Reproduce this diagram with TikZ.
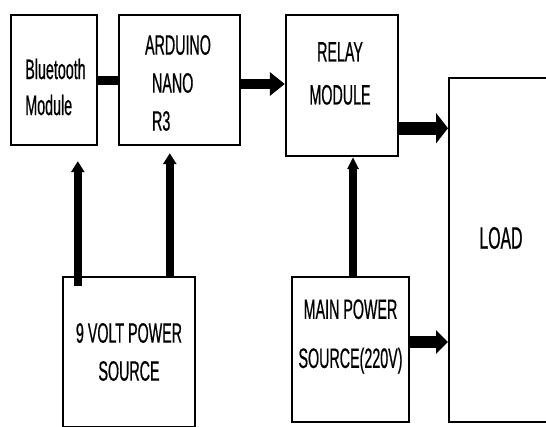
\documentclass[tikz,border=0pt]{standalone}
\usepackage{fontspec}
\newfontfamily\blockfont{Liberation Sans}[FakeStretch=0.51,FakeBold=0.6]
\usetikzlibrary{arrows.meta,calc}

\begin{document}
\begin{tikzpicture}[x=1pt,y=-1pt,
  blk/.style={draw,line width=2.4pt,inner sep=0pt},
  lbl/.style={font=\blockfont\fontsize{28}{#1}\selectfont,align=center,inner sep=0pt},
  link/.style n args={3}{line width=#1,-{Triangle[length=#2,width=#3]}}]
  \useasboundingbox (0,0) rectangle (546,426);
  \clip (0,0) rectangle (546,426);
  % blocks
  \node[blk,minimum width=86pt,minimum height=130pt,
    label={[lbl=36pt,align=left,xshift=1.5pt,yshift=-7pt]center:{Bluetooth\\Module}}] (bt) at (54,80) {};
  \node[blk,minimum width=121pt,minimum height=130pt,
    label={[lbl=38pt,align=left,xshift=-1.5pt,yshift=-3pt]center:{ARDUINO\\\hspace{7pt}NANO\\\hspace{7pt}R3}}] (ard) at (179.5,80) {};
  \node[blk,minimum width=112pt,minimum height=141pt,
    label={[lbl=43pt,xshift=-2pt,yshift=12pt]center:{RELAY\\MODULE}}] (rel) at (342,85.5) {};
  \node[blk,line width=2pt,minimum width=104pt,minimum height=344pt,
    label={[lbl=38pt,font=\blockfont\fontsize{31}{38}\selectfont,yshift=12pt]center:LOAD}] (load) at (501,250) {};
  \node[blk,minimum width=132pt,minimum height=150pt,
    label={[lbl=38pt]center:{9 VOLT POWER\\SOURCE}}] (src9) at (129,352) {};
  \node[blk,minimum width=117pt,minimum height=145pt,
    label={[lbl=49pt,yshift=13pt]center:{MAIN POWER\\SOURCE(220V)}}] (main) at (350.5,349.5) {};
  % connectors
  \coordinate (a1) at ($(ard.east)+(0,4)$);
  \coordinate (r1) at ($(rel.south east)+(0,-29)$);
  \coordinate (m1) at ($(main.east)+(0,-7.5)$);
  \coordinate (m2) at ($(main.north)+(2.5,0)$);
  \coordinate (p1) at ($(src9.north west)+(16,10)$);
  \coordinate (p2) at ($(src9.north west)+(108,0)$);
  \draw[line width=9pt] (bt.east) -- (ard.west);
  \draw[link={10pt}{15pt}{23pt}] (a1) -- (a1 -| rel.west);
  \draw[link={13pt}{12pt}{30pt}] (r1) -- (r1 -| load.west);
  \draw[link={12pt}{12pt}{23pt}] (m1) -- (m1 -| load.west);
  \draw[link={8pt}{12pt}{11pt}] (m2) -- (m2 |- rel.south);
  \draw[link={8pt}{11pt}{13pt}] (p1) -- ($(p1 |- bt.south)+(0,15)$);
  \draw[link={8pt}{11pt}{13pt}] (p2) -- ($(p2 |- ard.south)+(0,7)$);
\end{tikzpicture}
\end{document}
